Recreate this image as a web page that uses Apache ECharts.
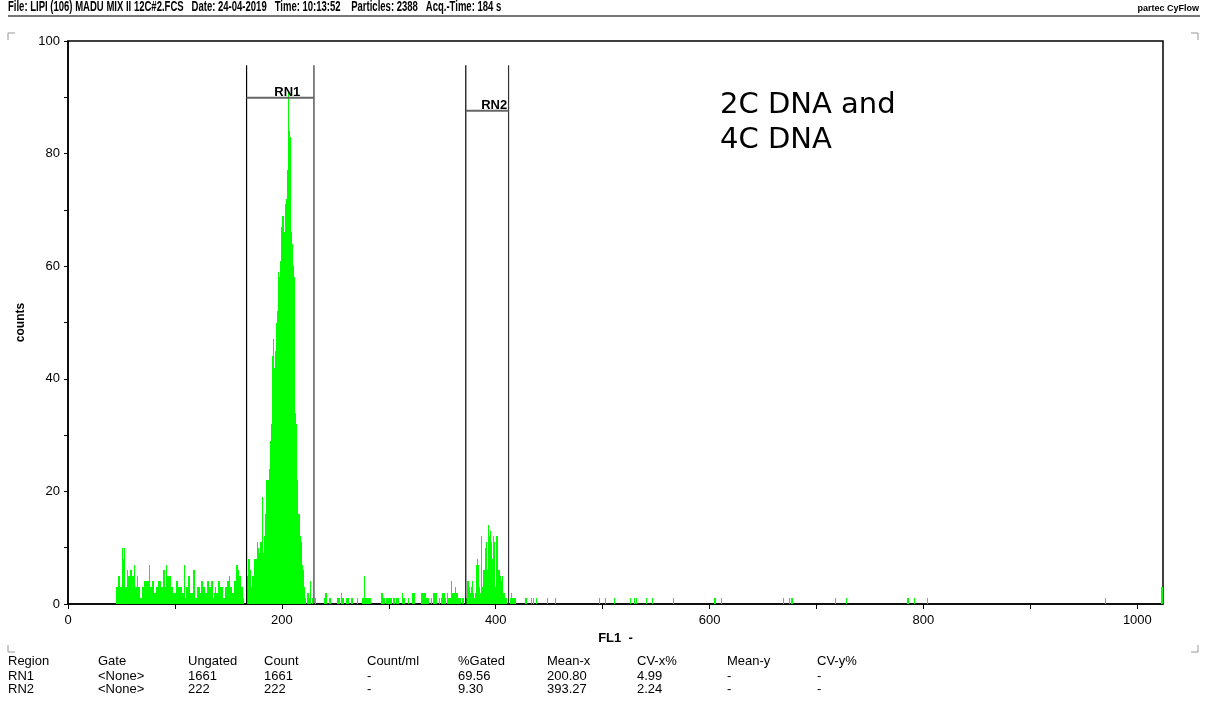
<!DOCTYPE html>
<html>
<head>
<meta charset="utf-8">
<script src="https://cdn.jsdelivr.net/npm/echarts@6/dist/echarts.min.js"></script>
<style>
  html, body { margin: 0; padding: 0; background: #fff; }
  #chart { width: 1206px; height: 706px; }
</style>
</head>
<body>
<div id="chart"></div>
<script>
// ---------- DATA ----------
const headerText = 'File: LIPI (106) MADU MIX II 12C#2.FCS   Date: 24-04-2019   Time: 10:13:52    Particles: 2388   Acq.-Time: 184 s';
const brandText = 'partec CyFlow';
const annotationLines = ['2C DNA and', '4C DNA'];
const xAxisName = 'FL1  -';
const yAxisName = 'counts';

// histogram: contiguous runs (first channel + counts per channel)
const noiseStart = 45;
const noiseCounts = [
  3,3,5,5,3,3,10,8,10,3,
  3,6,5,6,6,5,5,7,3,3,
  5,3,3,1,1,3,3,4,4,4,
  4,7,3,3,4,4,2,2,3,3,
  4,4,3,3,6,6,3,7,5,5,
  5,5,3,3,2,2,4,4,3,3,
  3,3,2,2,7,1,3,3,5,5,
  2,2,6,6,1,1,3,3,3,2,
  4,4,3,3,2,4,4,3,3,4,
  4,1,2,3,2,2,4,4,3,3,
  1,1,3,3,4,4,5,3,3,2,
  2,4,4,7,6,5,5,3,3,1,
  0,0
];
const rn1Start = 167;
const rn1Counts = [
  5,5,8,8,6,3,5,8,8,8,
  11,10,9,11,11,19,9,12,16,22,
  22,24,29,32,44,47,42,45,50,52,
  59,58,61,67,69,66,71,72,77,91,
  84,83,66,64,60,58,34,32,22,16,
  12,11,7,6,3,1,0,2,2,1,
  4,0,1,0,1,0
];
const rn2Start = 371;
const rn2Counts = [
  0,1,1,4,3,2,3,4,2,1,
  2,7,8,7,3,2,12,3,6,10,
  11,6,14,12,13,11,8,12,11,3,
  12,12,6,5,4,5,2,2,1,1,
  0
];
// isolated events: channel and count
const sparseChannels = [240,241,242,245,252,253,254,256,257,258,260,261,262,265,266,271,275,276,277,278,279,280,281,282,283,
  293,294,295,296,298,299,300,301,302,304,305,307,308,309,313,314,315,318,322,323,324,331,332,333,334,335,336,337,340,
  342,343,344,345,347,349,350,351,352,353,355,356,357,358,359,360,361,362,363,364,365,366,367,369,370,
  414,415,416,417,418,428,429,433,435,438,448,456,497,503,511,526,530,532,541,547,566,605,611,669,675,677,
  718,728,785,786,792,804,970,1023];
const sparseCounts = [1,2,2,1,1,1,1,2,1,1,1,1,1,1,1,1,1,1,5,1,1,1,1,1,1,
  2,2,1,1,1,1,1,1,1,1,1,1,1,1,2,1,1,1,2,2,2,2,2,2,2,1,1,1,1,
  2,2,2,2,1,1,2,2,2,1,2,1,1,1,4,2,2,3,2,2,1,1,1,1,1,
  1,2,1,1,1,1,1,1,1,1,1,1,1,1,1,1,1,1,1,1,1,1,1,1,1,1,
  1,1,1,1,1,1,1,3];

// gates: name, from, to, bar level (counts)
const gateNames = ['RN1', 'RN2'];
const gateFrom = [167, 372];
const gateTo = [230, 412];
const gateLevel = [89.9, 87.6];
const gateTop = 95.7;

// axis ticks
const xTickStep = 100, xLabelStep = 200, xMax = 1024;
const yTickStep = 10, yLabelStep = 20, yMax = 100;

// results table
const tableHeader = ['Region', 'Gate', 'Ungated', 'Count', 'Count/ml', '%Gated', 'Mean-x', 'CV-x%', 'Mean-y', 'CV-y%'];
const tableRN1 = ['RN1', '<None>', '1661', '1661', '-', '69.56', '200.80', '4.99', '-', '-'];
const tableRN2 = ['RN2', '<None>', '222', '222', '-', '9.30', '393.27', '2.24', '-', '-'];

// ---------- BUILD ----------
const histData = [];
function addRun(start, arr) { arr.forEach((v, i) => { if (v > 0) histData.push([start + i, v]); }); }
addRun(noiseStart, noiseCounts);
addRun(rn1Start, rn1Counts);
addRun(rn2Start, rn2Counts);
sparseChannels.forEach((c, i) => histData.push([c, sparseCounts[i]]));

const gateData = gateNames.map((n, i) => [gateFrom[i], gateTo[i], gateLevel[i], n]);

const FONT = "'Liberation Sans', Arial, sans-serif";
const tableCols = [8, 98, 188, 264, 367, 458, 547, 637, 727, 817];
const tableRowsY = [661, 676, 689];
const tableGraphics = [];
[tableHeader, tableRN1, tableRN2].forEach((row, r) => {
  row.forEach((t, c) => {
    tableGraphics.push({
      type: 'text', x: tableCols[c], y: tableRowsY[r],
      style: { text: t, font: '13px ' + FONT, fill: '#000', textVerticalAlign: 'middle', textAlign: 'left' }
    });
  });
});

const cornerColor = '#999';
const corners = [
  [[8, 40], [8, 33], [15, 33]],
  [[1191, 33], [1198, 33], [1198, 40]],
  [[8, 645], [8, 652], [15, 652]],
  [[1191, 652], [1198, 652], [1198, 645]]
].map(pts => ({ type: 'polyline', shape: { points: pts }, style: { stroke: cornerColor, lineWidth: 1, fill: null } }));

const chart = echarts.init(document.getElementById('chart'), null, { renderer: 'canvas' });
chart.setOption({
  animation: false,
  backgroundColor: '#fff',
  grid: { left: 68, right: 43, top: 41, bottom: 102, show: true, borderColor: '#000', borderWidth: 1.5, backgroundColor: 'transparent' },
  xAxis: {
    type: 'value', min: 0, max: xMax, interval: xTickStep,
    name: xAxisName, nameLocation: 'middle', nameGap: 22,
    nameTextStyle: { fontFamily: FONT, fontWeight: 'bold', fontSize: 13, color: '#000' },
    axisLine: { show: true, lineStyle: { color: '#000', width: 1.5 } },
    axisTick: { show: true, length: 5, lineStyle: { color: '#000', width: 1 } },
    splitLine: { show: false },
    axisLabel: { showMaxLabel: false, margin: 10, fontFamily: FONT, fontSize: 13, color: '#000',
      formatter: v => (v % xLabelStep === 0 ? String(v) : '') }
  },
  yAxis: {
    type: 'value', min: 0, max: yMax, interval: yTickStep,
    name: yAxisName, nameLocation: 'middle', nameGap: 41, nameRotate: 90,
    nameTextStyle: { fontFamily: FONT, fontWeight: 'bold', fontSize: 12, color: '#000' },
    axisLine: { show: true, lineStyle: { color: '#000', width: 1.5 } },
    axisTick: { show: true, length: 4, lineStyle: { color: '#000', width: 1 } },
    splitLine: { show: false },
    axisLabel: { margin: 8, fontFamily: FONT, fontSize: 13, color: '#000',
      formatter: v => (v % yLabelStep === 0 ? String(v) : '') }
  },
  series: [
    {
      type: 'custom', name: 'histogram', clip: true, data: histData,
      renderItem: (params, api) => {
        const c = api.value(0), v = api.value(1);
        const p0 = api.coord([c, 0]);
        const p1 = api.coord([c + 1, v]);
        const xa = Math.floor(p0[0]), xb = Math.floor(p1[0]);
        const yb = Math.round(p0[1]), yt = Math.round(p1[1]);
        return { type: 'rect',
          shape: { x: xa, y: yt, width: Math.max(1, xb - xa), height: yb - yt },
          style: { fill: '#00ff00' } };
      }
    },
    {
      type: 'custom', name: 'gates', data: gateData, z: 5,
      renderItem: (params, api) => {
        const a = api.value(0), b = api.value(1), lv = api.value(2);
        const name = gateNames[params.dataIndex];
        const pa0 = api.coord([a, 0]), paT = api.coord([a, gateTop]);
        const pb0 = api.coord([b, 0]), pbT = api.coord([b, gateTop]);
        const pl = api.coord([a, lv]), pr = api.coord([b, lv]);
        return { type: 'group', children: [
          { type: 'line', shape: { x1: pa0[0], y1: pa0[1], x2: paT[0], y2: paT[1] }, style: { stroke: '#000', lineWidth: 1.2 } },
          { type: 'line', shape: { x1: pb0[0], y1: pb0[1], x2: pbT[0], y2: pbT[1] }, style: { stroke: '#333', lineWidth: 1.2 } },
          { type: 'line', shape: { x1: pl[0], y1: pl[1], x2: pr[0], y2: pr[1] }, style: { stroke: '#666', lineWidth: 2 } },
          { type: 'text', x: (pl[0] + pr[0]) / 2 + 7, y: pl[1] + 1,
            style: { text: name, font: 'bold 13px ' + FONT, fill: '#000', textAlign: 'center', textVerticalAlign: 'bottom' } }
        ] };
      }
    }
  ],
  graphic: [
    { type: 'text', x: 8, y: 7, scaleX: 0.68, style: { text: headerText, font: 'bold 14px ' + FONT, fill: '#000', textVerticalAlign: 'middle' } },
    { type: 'text', x: 1199, y: 9, style: { text: brandText, font: 'bold 9px ' + FONT, fill: '#000', textAlign: 'right', textVerticalAlign: 'middle' } },
    { type: 'line', shape: { x1: 8, y1: 16, x2: 1200, y2: 16 }, style: { stroke: '#777', lineWidth: 2 } },
    { type: 'text', x: 720, y: 88, style: { text: annotationLines.join('\n'), font: "29px 'DejaVu Sans', sans-serif", lineHeight: 35, fill: '#000' } }
  ].concat(corners, tableGraphics)
});
</script>
</body>
</html>
